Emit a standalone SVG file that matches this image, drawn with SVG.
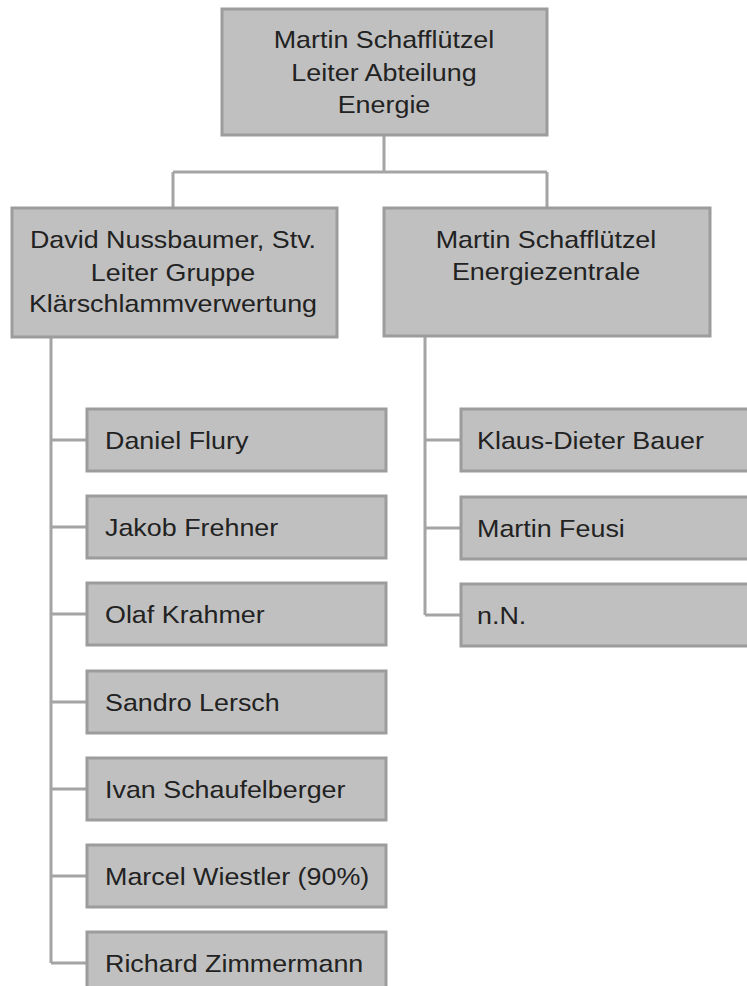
<svg xmlns="http://www.w3.org/2000/svg" width="747" height="986" viewBox="0 0 747 986">
<style>
.box{fill:#c0c0c0;stroke:#9c9c9c;stroke-width:3}
.ln{fill:none;stroke:#a4a4a4;stroke-width:3}
text{font-family:"Liberation Sans",Arial,sans-serif;font-size:24px;fill:#222}
.c{text-anchor:middle}
</style>
<rect width="747" height="986" fill="#fff"/>
<g id="connectors">
<path class="ln" d="M384 135V172M173 172H547M173 172V208M547 172V208"/>
<path class="ln" d="M51 337V963M51 440H87M51 527H87M51 614H87M51 702H87M51 789H87M51 876H87M51 963H87"/>
<path class="ln" d="M425 336V615M425 440H461M425 528H461M425 615H461"/>
</g>
<g id="n-top"><rect class="box" x="222" y="9" width="325" height="126"/>
<text class="c" transform="scale(1.12 1)" x="342.86" y="48">Martin Schafflützel</text>
<text class="c" transform="scale(1.12 1)" x="342.86" y="81">Leiter Abteilung</text>
<text class="c" transform="scale(1.12 1)" x="342.86" y="113">Energie</text></g>
<g id="n-david"><rect class="box" x="12" y="208" width="325" height="129"/>
<text class="c" transform="scale(1.12 1)" x="154.46" y="248">David Nussbaumer, Stv.</text>
<text class="c" transform="scale(1.12 1)" x="154.46" y="281">Leiter Gruppe</text>
<text class="c" transform="scale(1.12 1)" x="154.46" y="312">Klärschlammverwertung</text></g>
<g id="n-energiezentrale"><rect class="box" x="384" y="208" width="326" height="128"/>
<text class="c" transform="scale(1.12 1)" x="487.5" y="248">Martin Schafflützel</text>
<text class="c" transform="scale(1.12 1)" x="487.5" y="280">Energiezentrale</text></g>
<g id="n-flury"><rect class="box" x="87" y="409" width="299" height="62"/><text transform="scale(1.12 1)" x="93.75" y="449">Daniel Flury</text></g>
<g id="n-frehner"><rect class="box" x="87" y="496" width="299" height="62"/><text transform="scale(1.12 1)" x="93.75" y="536">Jakob Frehner</text></g>
<g id="n-krahmer"><rect class="box" x="87" y="583" width="299" height="62"/><text transform="scale(1.12 1)" x="93.75" y="623">Olaf Krahmer</text></g>
<g id="n-lersch"><rect class="box" x="87" y="671" width="299" height="62"/><text transform="scale(1.12 1)" x="93.75" y="711">Sandro Lersch</text></g>
<g id="n-schaufelberger"><rect class="box" x="87" y="758" width="299" height="62"/><text transform="scale(1.12 1)" x="93.75" y="798">Ivan Schaufelberger</text></g>
<g id="n-wiestler"><rect class="box" x="87" y="845" width="299" height="62"/><text transform="scale(1.12 1)" x="93.75" y="885">Marcel Wiestler (90%)</text></g>
<g id="n-zimmermann"><rect class="box" x="87" y="932" width="299" height="62"/><text transform="scale(1.12 1)" x="93.75" y="972">Richard Zimmermann</text></g>
<g id="n-bauer"><rect class="box" x="461" y="409" width="300" height="62"/><text transform="scale(1.12 1)" x="425.9" y="449">Klaus-Dieter Bauer</text></g>
<g id="n-feusi"><rect class="box" x="461" y="497" width="300" height="62"/><text transform="scale(1.12 1)" x="425.9" y="537">Martin Feusi</text></g>
<g id="n-nn"><rect class="box" x="461" y="584" width="300" height="62"/><text transform="scale(1.12 1)" x="425.9" y="624">n.N.</text></g>
</svg>
